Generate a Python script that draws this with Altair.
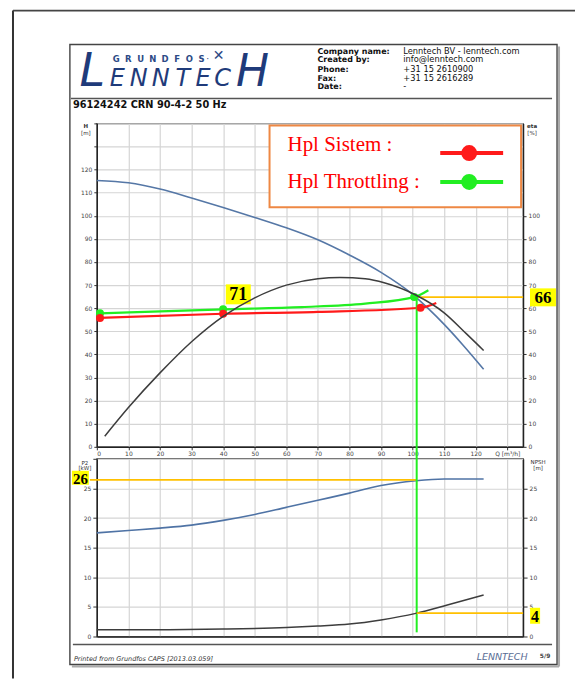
import altair as alt
import pandas as pd

# ---------------- data ----------------
q_head = [0, 10, 20, 30, 40, 50, 60, 70, 80, 90, 100, 105, 110, 116, 122.5]
head = [115.3, 114.3, 111.6, 107.7, 103.6, 99.3, 94.8, 89.6, 83.0, 75.5, 66.0, 59.8, 53.0, 44.0, 33.6]

q_eta = [2.5, 10, 20, 30, 40, 50, 60, 70, 77, 85, 91, 101, 110, 117, 122.5]
eta = [4.6, 17.0, 32.0, 45.5, 56.5, 64.5, 70.0, 72.8, 73.3, 72.7, 71.0, 65.7, 58.0, 49.0, 41.7]

q_sistem = [1, 40, 70, 102.5, 107.5]
h_sistem = [55.8, 57.6, 58.4, 60.2, 62.3]
q_sistem_pts = [1, 40, 102.5]
h_sistem_pts = [55.8, 57.6, 60.2]

q_throt = [1, 40, 65, 85, 100.5, 105]
h_throt = [57.8, 59.5, 60.5, 62.0, 64.8, 67.8]
q_throt_pts = [1, 40, 100.5]
h_throt_pts = [57.8, 59.5, 64.8]

q_p2 = [0, 10, 20, 30, 40, 50, 60, 70, 80, 90, 101, 110, 122.5]
p2 = [17.5, 17.9, 18.3, 18.8, 19.6, 20.6, 21.8, 23.0, 24.2, 25.5, 26.3, 26.6, 26.6]

q_npsh = [0, 20, 40, 60, 70, 80, 90, 101, 111, 122.5]
npsh = [1.15, 1.15, 1.25, 1.5, 1.75, 2.1, 2.8, 3.9, 5.3, 7.0]

duty_q = 101.3
duty_h = 64.8
duty_p2 = 26.45
duty_npsh = 3.93
q_max = 135

# annotation labels: text, Q, value
lab_71 = ("71", 44.8, 66.0)
lab_66 = ("66", 141.3, 64.7)
lab_26 = ("26", -5.2, 26.8)
lab_4 = ("4", 138.8, 3.5)

ONE = pd.DataFrame({"k": [0]})
FONT = "DejaVu Sans"
SERIF = "Liberation Serif"


def df(q, v):
    return pd.DataFrame({"Q": q, "V": v})


def T(s, x, y, size, color="#111", font=FONT, weight="normal", style="normal",
      align="left", baseline="middle"):
    return alt.Chart(ONE).mark_text(
        align=align, baseline=baseline, fontSize=size, font=font,
        fontWeight=weight, fontStyle=style, color=color
    ).encode(x=alt.value(x), y=alt.value(y), text=alt.value(s))


def R(x, y, x2, y2, color, w):
    return alt.Chart(ONE).mark_rule(color=color, strokeWidth=w).encode(
        x=alt.value(x), y=alt.value(y), x2=alt.value(x2), y2=alt.value(y2))


# ---------------- header / page frame (pixels relative to header view) ----------------
hdr = []
hdr.append(R(-84, -34, -84, 635, "#333", 2))
hdr.append(R(-84, -34, 479, -34, "#444", 1.6))
hdr.append(R(463, 2, 463, 623, "#aaa", 2))
hdr.append(R(-25, 623, 463, 623, "#aaa", 2))
hdr.append(alt.Chart(ONE).mark_rect(fill="white", fillOpacity=0, stroke="#444", strokeWidth=1.4).encode(
    x=alt.value(-27), x2=alt.value(461), y=alt.value(0), y2=alt.value(621)))
hdr.append(R(-26, 54, 456, 54, "#555", 1.5))
hdr.append(R(-24, 601, 456, 601, "#555", 1.5))

for i, ch in enumerate("GRUNDFOS"):
    hdr.append(T(ch, 19.4 + i * 12.2, 15, 8.5, color="#2c4a86", weight="bold", align="center"))
hdr.append(T("·", 111, 14.5, 9, color="#2c4a86", align="center"))
hdr.append(T("✕", 122, 11, 14, color="#2c4a86", weight="bold", align="center"))

logo = [("L", -4.5, 46), ("E", 20.5, 24), ("N", 42, 24), ("N", 64, 24), ("T", 86, 24),
        ("E", 106.5, 24), ("C", 126, 24), ("H", 156, 44)]
for ch, x, s in logo:
    hdr.append(T(ch, x, 42, s, color="#1f3b7a", style="italic", align="center", baseline="alphabetic"))

labels = ["Company name:", "Created by:", "Phone:", "Fax:", "Date:"]
values = ["Lenntech BV - lenntech.com", "info@lenntech.com", "+31 15 2610900", "+31 15 2616289", "-"]
rows_y = [7, 16, 25.3, 34.7, 42.7]
for lb, vl, yy in zip(labels, values, rows_y):
    hdr.append(T(lb, 221, yy, 8, color="#111", weight="bold"))
    hdr.append(T(vl, 307, yy, 8.3, color="#111"))

hdr.append(T("96124242 CRN 90-4-2 50 Hz", -24, 61, 9.8, color="#111", weight="bold"))
hdr.append(T("Printed from Grundfos CAPS [2013.03.059]", -23, 616, 6.5, color="#333", style="italic"))
hdr.append(T("LENNTECH", 406, 614, 9.5, color="#5a6d95", style="italic", align="center"))
hdr.append(T("5/9", 449, 613, 6, color="#444", weight="bold", align="center"))

header = alt.layer(*hdr).properties(width=427, height=67, view=alt.ViewBackground(stroke="transparent"))

# ---------------- top chart: H and eta ----------------
xs = alt.Scale(domain=[0, q_max], nice=False, zero=False)
X_TOP = alt.X("Q:Q", scale=xs, title=None,
              axis=alt.Axis(values=list(range(0, 131, 10)), grid=True, tickSize=3, labelPadding=1,
                            labelExpr="datum.value == 130 ? 'Q [m³/h]' : datum.label"))
Y_TOP = alt.Y("V:Q", scale=alt.Scale(domain=[0, 140], nice=False), title=None,
              axis=alt.Axis(orient="left", values=list(range(0, 141, 10)), grid=True, tickSize=3,
                            labelExpr="datum.value > 120 ? '' : datum.label"))
Y_ETA = alt.Y("V:Q", scale=alt.Scale(domain=[0, 140], nice=False), title=None,
              axis=alt.Axis(orient="right", values=list(range(0, 101, 10)), grid=False, tickSize=3))


def box_shape(w, h):
    a = w / h
    return f"M{-a},-1L{a},-1L{a},1L{-a},1Z", h * h


def label_layers(lab, w, h, fsize, X, Y):
    s, q, v = lab
    d = df([q], [v])
    path, size = box_shape(w, h)
    b = alt.Chart(d).mark_point(shape=path, filled=True, fill="#ffff00", opacity=1, size=size,
                                strokeWidth=0).encode(x=X, y=Y)
    t = alt.Chart(d).mark_text(text=s, font=SERIF, fontWeight="bold", fontSize=fsize, color="black",
                               baseline="middle", dy=1).encode(x=X, y=Y)
    return [b, t]


top_layers = [
    alt.Chart(df(q_head, head)).mark_line(color="#5577a6", strokeWidth=1.6, interpolate="monotone").encode(x=X_TOP, y=Y_TOP),
    alt.Chart(pd.DataFrame({"Q": [duty_q], "Q2": [q_max], "V": [duty_h]})).mark_rule(color="#ffc000", strokeWidth=1.8).encode(
        x=X_TOP, x2="Q2:Q", y=Y_TOP),
    alt.Chart(df(q_sistem, h_sistem)).mark_line(color="#ff1a1a", strokeWidth=2.2, interpolate="monotone").encode(x=X_TOP, y=Y_TOP),
    alt.Chart(df(q_throt, h_throt)).mark_line(color="#22ee22", strokeWidth=2.2, interpolate="monotone").encode(x=X_TOP, y=Y_TOP),
    alt.Chart(pd.DataFrame({"Q": [duty_q], "V": [duty_h + 1], "V2": [0]})).mark_rule(color="#22ee22", strokeWidth=2).encode(
        x=X_TOP, y=Y_TOP, y2="V2:Q"),
    alt.Chart(df(q_throt_pts, h_throt_pts)).mark_circle(color="#22ee22", size=64, opacity=1).encode(x=X_TOP, y=Y_TOP),
    alt.Chart(df(q_sistem_pts, h_sistem_pts)).mark_circle(color="#ff1a1a", size=64, opacity=1).encode(x=X_TOP, y=Y_TOP),
]
top_layers += label_layers(lab_71, 25, 20, 18, X_TOP, Y_TOP)
top_layers += label_layers(lab_66, 26, 18, 17, X_TOP, Y_TOP)

# legend box (pixels relative to the plot area)
top_layers.append(alt.Chart(ONE).mark_rect(fill="white", stroke="#ee8844", strokeWidth=2).encode(
    x=alt.value(173), x2=alt.value(425), y=alt.value(2), y2=alt.value(84)))
top_layers.append(T("Hpl Sistem :", 191, 27.3, 21, color="#ff0000", font=SERIF, baseline="alphabetic"))
top_layers.append(T("Hpl Throttling :", 191, 64.7, 21, color="#ff0000", font=SERIF, baseline="alphabetic"))
top_layers.append(R(344, 29.7, 407, 29.7, "#ff1a1a", 4))
top_layers.append(alt.Chart(ONE).mark_circle(color="#ff1a1a", opacity=1).encode(
    x=alt.value(373), y=alt.value(29.7), size=alt.value(254)))
top_layers.append(R(344, 58.7, 407, 58.7, "#22ee22", 4))
top_layers.append(alt.Chart(ONE).mark_circle(color="#22ee22", opacity=1).encode(
    x=alt.value(373), y=alt.value(58.7), size=alt.value(254)))
top_layers.append(T("H", -11, 3, 5.5, color="#333", weight="bold", align="center"))
top_layers.append(T("[m]", -11, 9.5, 5.5, color="#333", align="center"))
top_layers.append(T("eta", 436, 3, 5.5, color="#333", weight="bold", align="center"))
top_layers.append(T("[%]", 436, 9.5, 5.5, color="#333", align="center"))

eta_layer = alt.Chart(df(q_eta, eta)).mark_line(color="#3d3d3d", strokeWidth=1.5, interpolate="monotone").encode(
    x=X_TOP, y=Y_ETA)

top = alt.layer(alt.layer(*top_layers), eta_layer).resolve_scale(y="independent").properties(width=427, height=324)

# ---------------- bottom chart: P2 and NPSH ----------------
X_BOT = alt.X("Q:Q", scale=xs, title=None,
              axis=alt.Axis(values=list(range(0, 131, 10)), grid=True, labels=False, ticks=False))
Y_P2 = alt.Y("V:Q", scale=alt.Scale(domain=[0, 30], nice=False), title=None,
             axis=alt.Axis(orient="left", values=list(range(0, 31, 5)), grid=True, tickSize=4,
                           labelExpr="datum.value > 25 ? '' : datum.label"))
Y_NPSH = alt.Y("V:Q", scale=alt.Scale(domain=[0, 30], nice=False), title=None,
               axis=alt.Axis(orient="right", values=list(range(0, 26, 5)), grid=False, tickSize=4))

bot_left = [
    alt.Chart(df(q_p2, p2)).mark_line(color="#4f73a5", strokeWidth=1.6, interpolate="monotone").encode(x=X_BOT, y=Y_P2),
    alt.Chart(pd.DataFrame({"Q": [-2.2], "Q2": [duty_q], "V": [duty_p2]})).mark_rule(color="#ffc000", strokeWidth=1.8).encode(
        x=X_BOT, x2="Q2:Q", y=Y_P2),
    alt.Chart(pd.DataFrame({"Q": [duty_q], "V": [0.7], "V2": [32]})).mark_rule(color="#22ee22", strokeWidth=2).encode(
        x=X_BOT, y=Y_P2, y2="V2:Q"),
]
bot_left += label_layers(lab_26, 17, 14, 15, X_BOT, Y_P2)
bot_left.append(T("P2", -12, 4, 5.5, color="#333", align="center"))
bot_left.append(T("[kW]", -12, 9.5, 5.5, color="#333", align="center"))
bot_left.append(T("NPSH", 442, 3, 5.5, color="#333", align="center"))
bot_left.append(T("[m]", 442, 9, 5.5, color="#333", align="center"))

bot_right = [
    alt.Chart(df(q_npsh, npsh)).mark_line(color="#3d3d3d", strokeWidth=1.5, interpolate="monotone").encode(x=X_BOT, y=Y_NPSH),
    alt.Chart(pd.DataFrame({"Q": [duty_q], "Q2": [q_max], "V": [duty_npsh]})).mark_rule(color="#ffc000", strokeWidth=1.8).encode(
        x=X_BOT, x2="Q2:Q", y=Y_NPSH),
]
bot_right += label_layers(lab_4, 10, 16, 16, X_BOT, Y_NPSH)

bottom = alt.layer(alt.layer(*bot_left), alt.layer(*bot_right)).resolve_scale(y="independent").properties(
    width=427, height=178)

chart = alt.vconcat(header, top, bottom, spacing=12, bounds="flush").properties(
    padding={"left": 3, "top": 0, "right": 0, "bottom": 0}, background="white"
).configure_view(stroke="#222", strokeWidth=1.3).configure_axis(
    labelFont=FONT, labelFontSize=6, labelColor="#444", tickColor="#333", domainColor="#222",
    domainWidth=1.3, gridColor="#d5d5d5", gridWidth=1.2, labelPadding=2
)

chart.save("out.html", embed_options={"renderer": "svg", "actions": False})
